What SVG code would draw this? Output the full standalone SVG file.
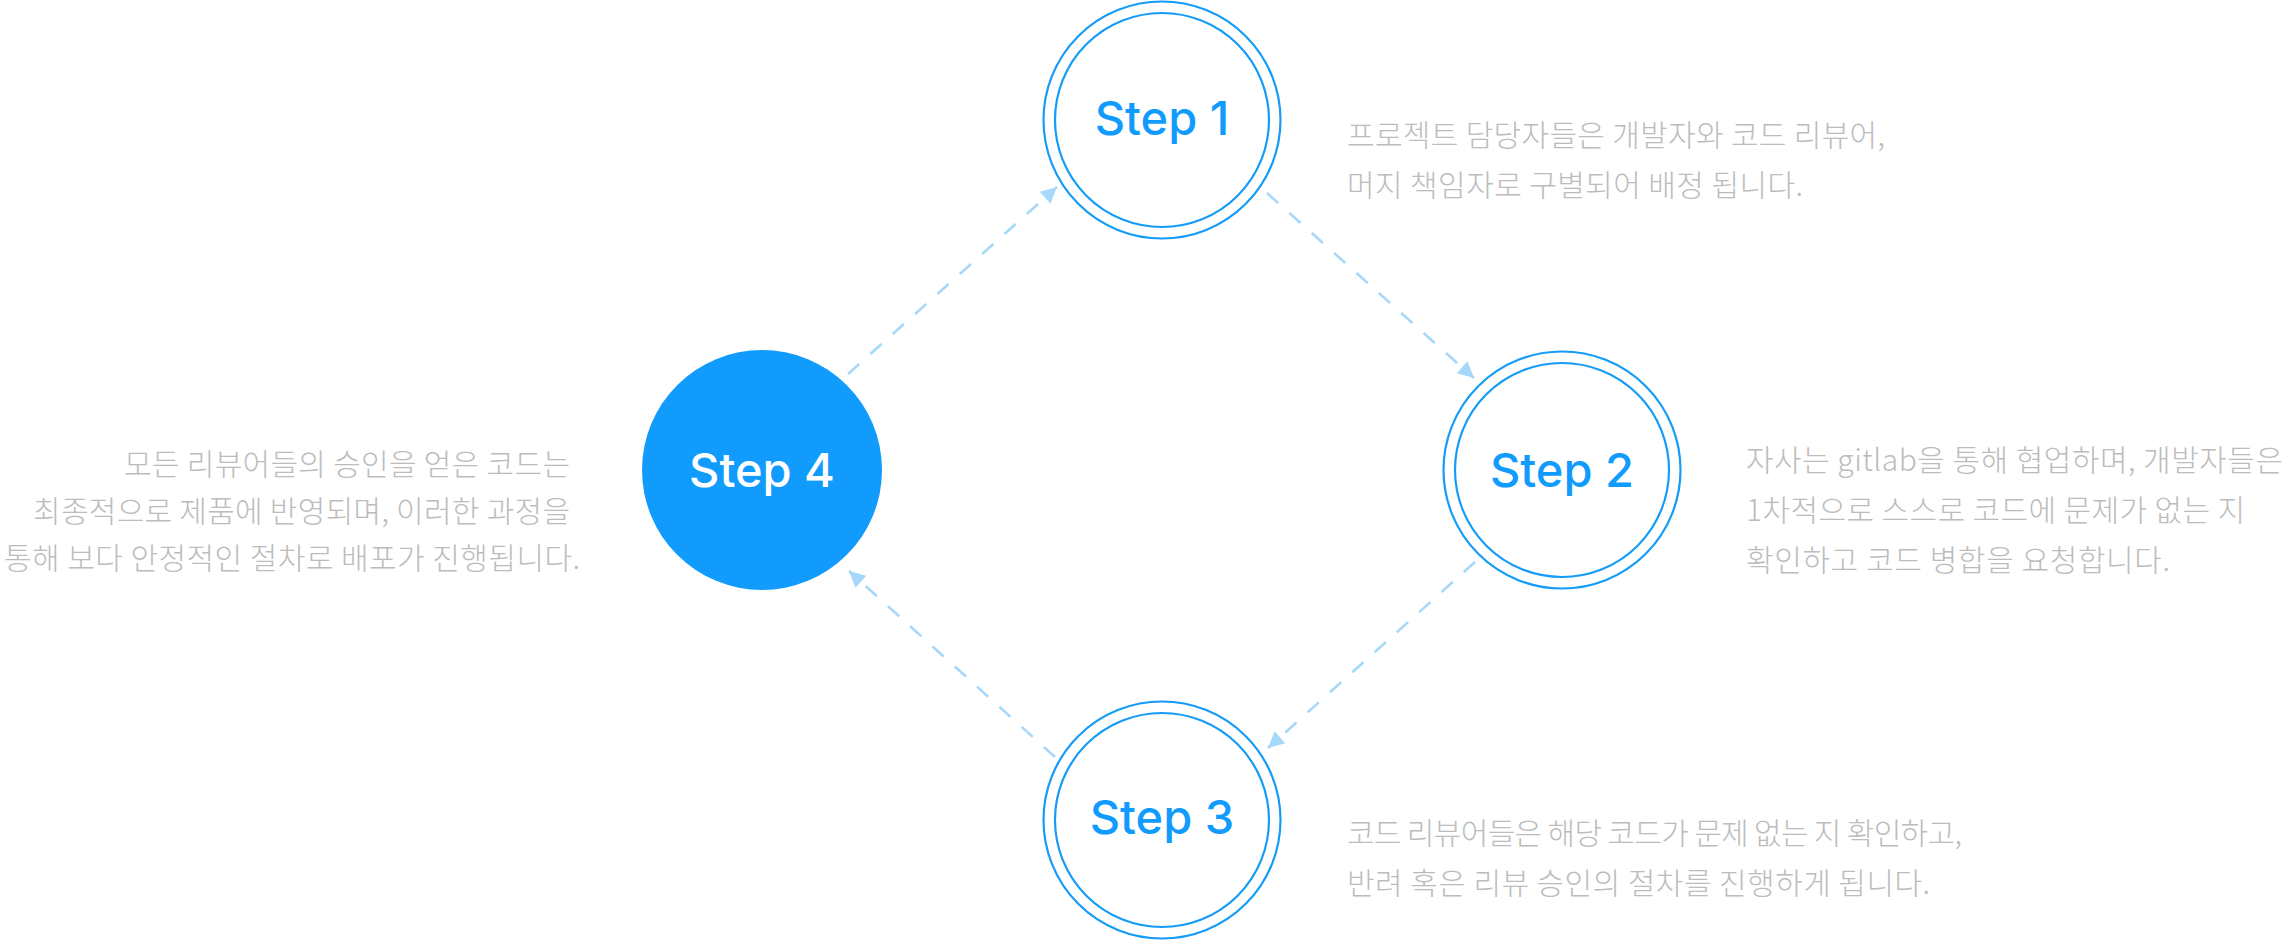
<svg xmlns="http://www.w3.org/2000/svg" width="2294" height="940" viewBox="0 0 2294 940">
<defs>
<style>
.ring{fill:#fff;stroke:#159cf8;stroke-width:2.2}
.ring2{fill:none;stroke:#159cf8;stroke-width:2.2}
.lbl{font-family:Inter,"Noto Sans",sans-serif;font-weight:500;font-size:47px;text-anchor:middle;fill:#119cfd}
.desc{font-family:"Noto Sans CJK KR","Noto Sans",sans-serif;font-weight:300;font-size:30px;fill:#bcbcbc}
.conn{fill:none;stroke:#a6d8fb;stroke-width:2.6;stroke-dasharray:15 15}
</style>
<marker id="arr" markerUnits="userSpaceOnUse" markerWidth="20" markerHeight="20" viewBox="0 0 20 20" refX="18" refY="10" orient="auto">
<path d="M2,2 L18,10 L2,18 Z" fill="#a6d8fb"/>
</marker>
</defs>
<rect width="2294" height="940" fill="#fff"/>
<g id="connectors">
<line class="conn" x1="848" y1="374" x2="1057" y2="187" marker-end="url(#arr)"/>
<line class="conn" x1="1267" y1="193" x2="1474" y2="378" marker-end="url(#arr)"/>
<line class="conn" x1="1475" y1="562" x2="1268" y2="748" marker-end="url(#arr)"/>
<line class="conn" x1="1055" y1="757" x2="849" y2="571" marker-end="url(#arr)"/>
</g>
<g id="step1">
<circle class="ring" cx="1162" cy="120" r="118.5"/>
<circle class="ring2" cx="1162" cy="120" r="107"/>
<text class="lbl" x="1162" y="135">Step 1</text>
<text class="desc" x="1347" y="146" textLength="538" lengthAdjust="spacing">프로젝트 담당자들은 개발자와 코드 리뷰어,</text>
<text class="desc" x="1347" y="196" textLength="456" lengthAdjust="spacing">머지 책임자로 구별되어 배정 됩니다.</text>
</g>
<g id="step2">
<circle class="ring" cx="1562" cy="470" r="118.5"/>
<circle class="ring2" cx="1562" cy="470" r="107"/>
<text class="lbl" x="1562" y="487">Step 2</text>
<text class="desc" x="1746" y="471" textLength="537" lengthAdjust="spacing">자사는 gitlab을 통해 협업하며, 개발자들은</text>
<text class="desc" x="1746" y="521" textLength="499" lengthAdjust="spacing">1차적으로 스스로 코드에 문제가 없는 지</text>
<text class="desc" x="1746" y="571" textLength="424" lengthAdjust="spacing">확인하고 코드 병합을 요청합니다.</text>
</g>
<g id="step3">
<circle class="ring" cx="1162" cy="820" r="118.5"/>
<circle class="ring2" cx="1162" cy="820" r="107"/>
<text class="lbl" x="1162" y="834">Step 3</text>
<text class="desc" x="1347" y="844" textLength="615" lengthAdjust="spacing">코드 리뷰어들은 해당 코드가 문제 없는 지 확인하고,</text>
<text class="desc" x="1347" y="894" textLength="583" lengthAdjust="spacing">반려 혹은 리뷰 승인의 절차를 진행하게 됩니다.</text>
</g>
<g id="step4">
<circle cx="762" cy="470" r="120" fill="#119cfd"/>
<text class="lbl" x="762" y="487" style="fill:#fff">Step 4</text>
<text class="desc" x="124" y="475" textLength="446" lengthAdjust="spacing">모든 리뷰어들의 승인을 얻은 코드는</text>
<text class="desc" x="33" y="522" textLength="537" lengthAdjust="spacing">최종적으로 제품에 반영되며, 이러한 과정을</text>
<text class="desc" x="4" y="569" textLength="576" lengthAdjust="spacing">통해 보다 안정적인 절차로 배포가 진행됩니다.</text>
</g>
</svg>
